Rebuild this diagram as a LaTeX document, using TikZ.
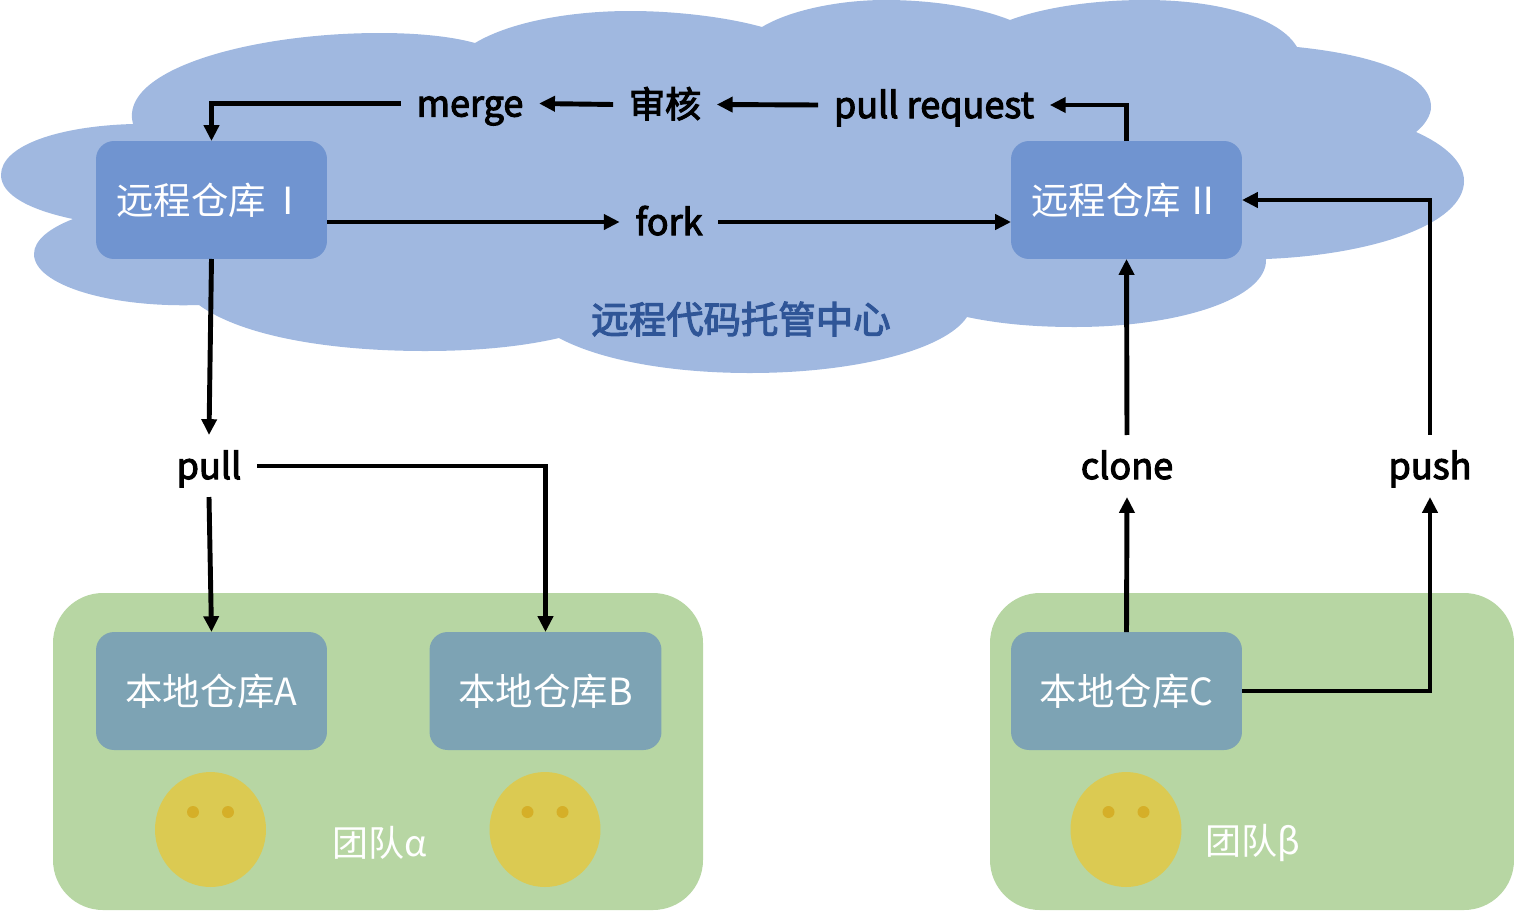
\documentclass[tikz,border=0pt]{standalone}
\usepackage{fontspec}
\setmainfont{Noto Sans CJK SC}
\newfontfamily\gitLabelFont[FakeBold=3]{Noto Sans CJK SC}
\usetikzlibrary{arrows.meta,shapes.geometric}
\definecolor{gitCloud}{HTML}{A0B8E0}
\definecolor{gitRemote}{HTML}{7094D0}
\definecolor{gitTeam}{HTML}{B7D6A3}
\definecolor{gitLocal}{HTML}{7DA3B4}
\definecolor{gitFace}{HTML}{DBCA52}
\definecolor{gitEye}{HTML}{D5AF28}
\definecolor{gitTitle}{HTML}{2F5597}
\tikzset{
  git diagram/.style={line cap=butt, line join=miter},
  git box/.style={rectangle, rounded corners=0.36cm, minimum width=4.62cm,
    minimum height=2.36cm, outer sep=0pt, inner sep=0pt, text=white,
    font=\fontsize{21.3}{24}\selectfont},
  git remote/.style={git box, fill=gitRemote},
  git local/.style={git box, fill=gitLocal},
  git team/.style={draw=none, fill=gitTeam, rounded corners=1cm},
  git step/.style={inner xsep=9pt, inner ysep=0pt, text height=19pt, text depth=4.2pt,
    minimum height=35.3pt, outer sep=0pt,
    font=\gitLabelFont\fontsize{20.5}{24}\selectfont},
  git face/.style={ellipse, fill=gitFace, minimum width=2.22cm, minimum height=2.3cm,
    inner sep=0pt, outer sep=0pt},
  git eye/.style={ellipse, fill=gitEye, minimum width=0.24cm, minimum height=0.24cm,
    inner sep=0pt, outer sep=0pt},
  git note/.style={text=white, inner sep=0pt, font=\fontsize{20.5}{24}\selectfont},
  git arrow/.style={-{Triangle[length=9pt,width=8.5pt]}, draw=black, line width=2.8pt}
}
\begin{document}
\begin{tikzpicture}[git diagram,x=0.02cm,y=-0.02cm]
\useasboundingbox (0,0) rectangle (1514,910);
\fill[gitCloud] (133,124) .. controls (118,70) and (250,33) .. (380,33)
  .. controls (415,33) and (450,36) .. (475,43)
  .. controls (510,22) and (570,11) .. (630,11)
  .. controls (680,11) and (730,18) .. (762,27)
  .. controls (790,10) and (840,0) .. (885,0)
  .. controls (935,0) and (980,8) .. (1010,20)
  .. controls (1045,7) and (1095,0) .. (1145,0)
  .. controls (1220,0) and (1280,18) .. (1297,47)
  .. controls (1375,55) and (1431,75) .. (1431,107)
  .. controls (1431,115) and (1425,125) .. (1416,132)
  .. controls (1445,145) and (1464,162) .. (1464,181)
  .. controls (1464,225) and (1370,255) .. (1266,259)
  .. controls (1268,298) and (1180,327) .. (1075,327)
  .. controls (1035,327) and (1000,324) .. (967,317)
  .. controls (945,350) and (855,373) .. (750,373)
  .. controls (670,373) and (600,360) .. (559,338)
  .. controls (520,347) and (475,351) .. (425,351)
  .. controls (325,351) and (240,335) .. (199,305)
  .. controls (110,308) and (34,285) .. (34,254)
  .. controls (34,240) and (50,228) .. (73,219)
  .. controls (30,210) and (1,195) .. (1,175)
  .. controls (1,145) and (60,126) .. (133,124) -- cycle;
\fill[git team] (53,593) rectangle (703,910);
\fill[git team] (990,593) rectangle (1514,910);
\node[git remote] (remoteOne) at (211.5,200) {远程仓库\hspace{2pt}Ⅰ};
\node[git remote] (remoteTwo) at (1126.5,200) {远程仓库\hspace{2pt}Ⅱ};
\node[git local] (localA) at (211.5,691) {本地仓库A};
\node[git local, minimum width=4.64cm] (localB) at (545.5,691) {本地仓库B};
\node[git local] (localC) at (1126.5,691) {本地仓库C};
\node[git step] (merge) at (470,103.5) {merge};
\node[git step] (review) at (665,104.5) {审核};
\node[git step] (request) at (934,105) {pull request};
\node[git step] (fork) at (669,222) {fork};
\node[git step] (pull) at (209,466) {pull};
\node[git step] (clone) at (1127,466) {clone};
\node[git step] (push) at (1430,466) {push};
\node[text=gitTitle, inner sep=0pt, font=\gitLabelFont\fontsize{21.3}{24}\selectfont] (cloudTitle) at (741,319) {远程代码托管中心};
\node[git note] (teamAlpha) at (380,843) {团队α};
\node[git note] (teamBeta) at (1253,843) {团队β};
\foreach \name/\x in {faceA/210.5,faceB/545,faceC/1126}{
  \node[git face] (\name) at (\x,829.5) {};
  \node[git eye] (\name Left) at (\x-17.5,812) {};
  \node[git eye] (\name Right) at (\x+17.5,812) {};
}
\draw[git arrow] (merge.west) -| (remoteOne.north);
\draw[git arrow] (review.west) -- (merge.east);
\draw[git arrow] (request.west) -- (review.east);
\draw[git arrow] (remoteTwo.north) |- (request.east);
\draw[git arrow] (remoteOne.east |- fork) -- (fork.west);
\draw[git arrow] (fork.east) -- (remoteTwo.west |- fork);
\draw[git arrow] (remoteOne.south) -- (pull.north);
\draw[git arrow] (pull.south) -- (localA.north);
\draw[git arrow] (pull.east) -| (localB.north);
\draw[git arrow] (clone.north) -- (remoteTwo.south);
\draw[git arrow] (localC.north) -- (clone.south);
\draw[git arrow] (push.north) |- (remoteTwo.east);
\draw[git arrow] (localC.east) -| (push.south);
\end{tikzpicture}
\end{document}
